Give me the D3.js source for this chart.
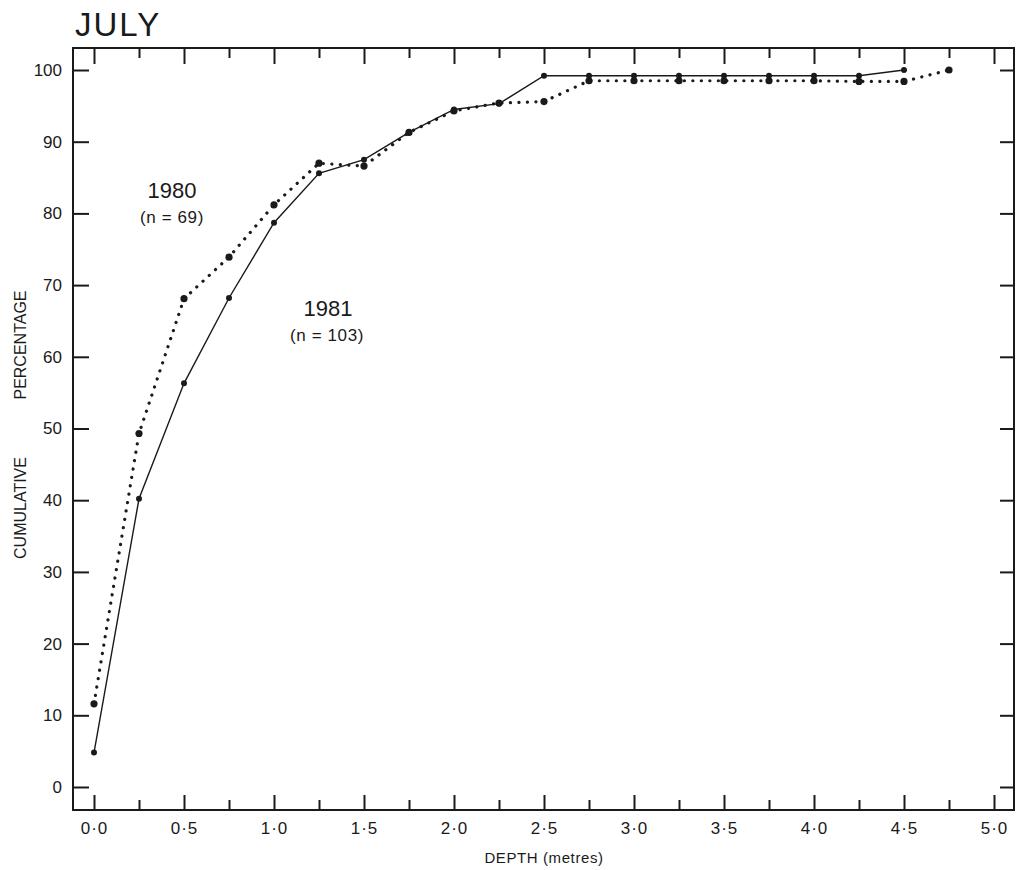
<!DOCTYPE html>
<html>
<head>
<meta charset="utf-8">
<script src="https://cdn.jsdelivr.net/npm/d3@7"></script>
<style>
  body { margin: 0; background: #fff; }
  text { font-family: "Liberation Sans", Arial, sans-serif; fill: #1a1a1a; }
</style>
</head>
<body>
<svg width="1019" height="870"></svg>
<script>
// depth classes (metres) and cumulative percentages
var depths = [0, 0.25, 0.5, 0.75, 1.0, 1.25, 1.5, 1.75, 2.0, 2.25, 2.5, 2.75, 3.0, 3.25, 3.5, 3.75, 4.0, 4.25, 4.5, 4.75];
var pct1981 = [4.8, 40.2, 56.3, 68.2, 78.7, 85.6, 87.5, 91.3, 94.5, 95.3, 99.2, 99.2, 99.2, 99.2, 99.2, 99.2, 99.2, 99.2, 100];
var pct1980 = [11.6, 49.3, 68.1, 73.9, 81.2, 87.0, 86.6, 91.3, 94.3, 95.4, 95.6, 98.5, 98.5, 98.5, 98.5, 98.5, 98.5, 98.4, 98.4, 100];
var xMajor = [0, 0.5, 1.0, 1.5, 2.0, 2.5, 3.0, 3.5, 4.0, 4.5, 5.0];
var xMinor = [0.25, 0.75, 1.25, 1.75, 2.25, 2.75, 3.25, 3.75, 4.25, 4.75];
var yTicks = [0, 10, 20, 30, 40, 50, 60, 70, 80, 90, 100];

var frame = {left: 73, right: 1014, top: 48, bottom: 810};

var x = d3.scaleLinear().domain([0, 5]).range([94, 994]);
var y = d3.scaleLinear().domain([0, 100]).range([787, 70]);

var svg = d3.select('svg');
var ink = '#1a1a1a';

var fmtX = function(d) { return d3.format('.1f')(d).replace('.', '\u00b7'); };

// bottom axis, major ticks with labels
svg.append('g')
    .attr('transform', 'translate(0,' + frame.bottom + ')')
    .call(d3.axisBottom(x).tickValues(xMajor).tickFormat(fmtX).tickSize(-15).tickPadding(12))
    .call(g => g.select('.domain').remove())
    .call(g => g.selectAll('text').style('font-size', '17px').style('letter-spacing', '1px').attr('fill', ink));
svg.append('g')
    .attr('transform', 'translate(0,' + frame.bottom + ')')
    .call(d3.axisBottom(x).tickValues(xMinor).tickFormat('').tickSize(-10))
    .call(g => g.select('.domain').remove());

// top ticks pointing down
svg.append('g')
    .attr('transform', 'translate(0,' + frame.top + ')')
    .call(d3.axisTop(x).tickValues(xMajor).tickFormat('').tickSize(-16))
    .call(g => g.select('.domain').remove());
svg.append('g')
    .attr('transform', 'translate(0,' + frame.top + ')')
    .call(d3.axisTop(x).tickValues(xMinor).tickFormat('').tickSize(-10))
    .call(g => g.select('.domain').remove());

// left axis
svg.append('g')
    .attr('transform', 'translate(' + frame.left + ',0)')
    .call(d3.axisLeft(y).tickValues(yTicks).tickSize(-16).tickPadding(11))
    .call(g => g.select('.domain').remove())
    .call(g => g.selectAll('text').style('font-size', '17px').attr('fill', ink));

// right ticks
svg.append('g')
    .attr('transform', 'translate(' + frame.right + ',0)')
    .call(d3.axisRight(y).tickValues(yTicks).tickFormat('').tickSize(-14))
    .call(g => g.select('.domain').remove());

svg.selectAll('.tick line').attr('stroke', ink).attr('stroke-width', 2);

svg.append('rect')
    .attr('x', frame.left)
    .attr('y', frame.top)
    .attr('width', frame.right - frame.left)
    .attr('height', frame.bottom - frame.top)
    .attr('fill', 'none')
    .attr('stroke', ink)
    .attr('stroke-width', 2);

var line = d3.line()
    .x(d => x(d[0]))
    .y(d => y(d[1]));

var s1981 = pct1981.map((v, i) => [depths[i], v]);
var s1980 = pct1980.map((v, i) => [depths[i], v]);

// 1980 dotted
svg.append('path')
    .datum(s1980)
    .attr('d', line)
    .attr('fill', 'none')
    .attr('stroke', ink)
    .attr('stroke-width', 3.2)
    .attr('stroke-linecap', 'round')
    .attr('stroke-dasharray', '0.1,8.4');

svg.selectAll('.dot1980')
    .data(s1980)
    .enter()
    .append('circle')
      .classed('dot1980', true)
      .attr('cx', d => x(d[0]))
      .attr('cy', d => y(d[1]))
      .attr('r', 3.6)
      .attr('fill', ink);

// 1981 solid
svg.append('path')
    .datum(s1981)
    .attr('d', line)
    .attr('fill', 'none')
    .attr('stroke', ink)
    .attr('stroke-width', 1.4);

svg.selectAll('.dot1981')
    .data(s1981)
    .enter()
    .append('circle')
      .classed('dot1981', true)
      .attr('cx', d => x(d[0]))
      .attr('cy', d => y(d[1]))
      .attr('r', 3)
      .attr('fill', ink);

// labels
svg.append('text')
    .text('JULY')
    .attr('x', 75)
    .attr('y', 36)
    .style('font-size', '33px')
    .style('letter-spacing', '2px');

svg.append('text')
    .text('1980')
    .attr('x', 172)
    .attr('y', 198)
    .style('text-anchor', 'middle')
    .style('font-size', '22px');
svg.append('text')
    .text('(n = 69)')
    .attr('x', 172)
    .attr('y', 223)
    .style('text-anchor', 'middle')
    .style('font-size', '17px')
    .style('letter-spacing', '0.6px');

svg.append('text')
    .text('1981')
    .attr('x', 328)
    .attr('y', 316)
    .style('text-anchor', 'middle')
    .style('font-size', '22px');
svg.append('text')
    .text('(n = 103)')
    .attr('x', 327)
    .attr('y', 341)
    .style('text-anchor', 'middle')
    .style('font-size', '17px')
    .style('letter-spacing', '0.6px');

svg.append('text')
    .text('DEPTH (metres)')
    .attr('x', 544)
    .attr('y', 863)
    .style('text-anchor', 'middle')
    .style('font-size', '15px')
    .style('letter-spacing', '0.6px');

svg.append('text')
    .text('CUMULATIVE')
    .attr('transform', 'translate(26,508) rotate(-90)')
    .style('text-anchor', 'middle')
    .style('font-size', '16px');
svg.append('text')
    .text('PERCENTAGE')
    .attr('transform', 'translate(26,345) rotate(-90)')
    .style('text-anchor', 'middle')
    .style('font-size', '16px');
</script>
</body>
</html>
